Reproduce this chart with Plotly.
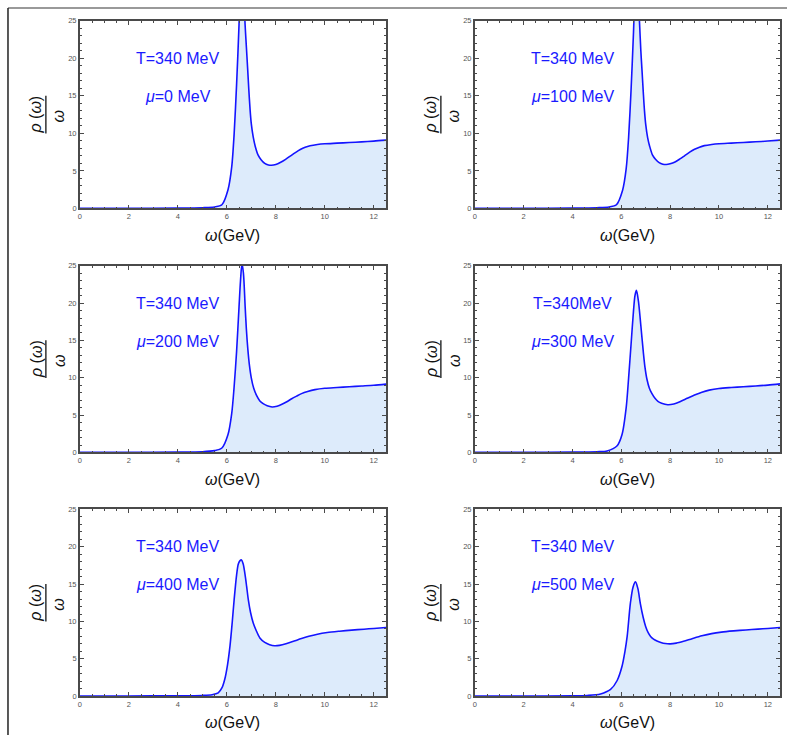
import plotly.graph_objects as go

# ---------------- data ----------------
T_label = ["T=340 MeV", "T=340 MeV", "T=340 MeV", "T=340MeV", "T=340 MeV", "T=340 MeV"]
mu_values = [0, 100, 200, 300, 400, 500]

x_mu0 = [0, 2, 4, 5.0, 5.5, 5.8, 6.05, 6.2, 6.3, 6.4, 6.5, 6.56, 6.62, 6.68, 6.74, 6.8, 6.85, 6.9, 6.95, 7.0, 7.08, 7.16, 7.28, 7.4, 7.55, 7.7, 7.82, 8.0, 8.2, 8.4, 8.6, 8.8, 9.0, 9.2, 9.4, 9.7, 10.0, 10.5, 11.0, 11.5, 12.0, 12.5]
y_mu0 = [0.02, 0.03, 0.05, 0.1, 0.2, 0.5, 2.5, 5.5, 9.9, 16.5, 24.5, 31, 34, 31, 25, 21.5, 18.7, 15.8, 13.2, 11.3, 9.5, 8.3, 7.1, 6.5, 6.0, 5.8, 5.75, 5.85, 6.15, 6.55, 7.0, 7.45, 7.85, 8.15, 8.35, 8.52, 8.62, 8.7, 8.78, 8.87, 8.97, 9.1]

x_mu100 = [0, 2, 4, 5.0, 5.5, 5.8, 6.05, 6.2, 6.3, 6.4, 6.5, 6.56, 6.62, 6.68, 6.75, 6.8, 6.85, 6.9, 6.95, 7.0, 7.08, 7.16, 7.28, 7.4, 7.55, 7.7, 7.84, 8.0, 8.2, 8.4, 8.6, 8.8, 9.0, 9.2, 9.4, 9.7, 10.0, 10.5, 11.0, 11.5, 12.0, 12.5]
y_mu100 = [0.02, 0.03, 0.05, 0.1, 0.2, 0.5, 2.4, 5.3, 9.5, 15.8, 23.5, 29, 31, 29, 24.5, 21.0, 18.3, 15.5, 13.0, 11.2, 9.4, 8.3, 7.1, 6.55, 6.1, 5.9, 5.85, 5.95, 6.2, 6.6, 7.05, 7.5, 7.88, 8.17, 8.37, 8.53, 8.63, 8.71, 8.79, 8.88, 8.98, 9.1]

x_mu200 = [0, 2, 4, 5.0, 5.5, 5.8, 6.05, 6.2, 6.3, 6.4, 6.5, 6.56, 6.62, 6.68, 6.75, 6.8, 6.86, 6.92, 7.0, 7.1, 7.22, 7.35, 7.5, 7.65, 7.85, 8.05, 8.25, 8.45, 8.65, 8.85, 9.05, 9.3, 9.6, 10.0, 10.5, 11.0, 11.5, 12.0, 12.5]
y_mu200 = [0.02, 0.03, 0.05, 0.1, 0.25, 0.6, 2.4, 5.2, 8.8, 13.5, 19.5, 23, 25.3, 24, 19.5, 16.5, 13.8, 11.8, 10.0, 8.6, 7.6, 6.9, 6.5, 6.25, 6.1, 6.2, 6.45, 6.8, 7.2, 7.55, 7.88, 8.17, 8.42, 8.6, 8.7, 8.8, 8.9, 9.0, 9.15]

x_mu300 = [0, 2, 4, 5.0, 5.42, 5.83, 6.03, 6.2, 6.3, 6.4, 6.5, 6.56, 6.62, 6.7, 6.8, 6.9, 6.97, 7.05, 7.15, 7.25, 7.38, 7.5, 7.65, 7.9, 8.15, 8.4, 8.7, 9.0, 9.3, 9.6, 10.0, 10.5, 11.0, 11.5, 12.0, 12.5]
y_mu300 = [0.02, 0.03, 0.05, 0.1, 0.2, 0.9, 2.4, 6.0, 10.0, 14.5, 19.0, 21.0, 21.7, 20.3, 17.0, 13.5, 11.4, 9.8, 8.6, 7.9, 7.25, 6.85, 6.6, 6.4, 6.5, 6.8, 7.25, 7.7, 8.08, 8.35, 8.57, 8.7, 8.8, 8.9, 9.02, 9.18]

x_mu400 = [0, 2, 4, 5.0, 5.4, 5.65, 5.8, 5.92, 6.03, 6.13, 6.22, 6.3, 6.4, 6.47, 6.54, 6.6, 6.67, 6.74, 6.81, 6.88, 6.97, 7.08, 7.2, 7.35, 7.55, 7.75, 7.95, 8.15, 8.45, 8.75, 9.05, 9.35, 9.7, 10.1, 10.6, 11.1, 11.6, 12.0, 12.5]
y_mu400 = [0.02, 0.03, 0.05, 0.1, 0.2, 0.45, 1.1, 2.3, 4.2, 6.7, 9.8, 12.9, 16.2, 17.7, 18.15, 18.25, 17.7, 16.4, 14.7, 12.9, 11.2, 9.8, 8.8, 7.8, 7.2, 6.9, 6.75, 6.8, 7.05, 7.38, 7.72, 8.02, 8.3, 8.52, 8.7, 8.85, 8.97, 9.07, 9.2]

x_mu500 = [0, 2, 4, 4.6, 5.15, 5.56, 5.83, 6.03, 6.15, 6.24, 6.37, 6.48, 6.58, 6.68, 6.78, 6.9, 7.0, 7.1, 7.2, 7.32, 7.46, 7.62, 7.8, 8.0, 8.25, 8.55, 8.9, 9.3, 9.7, 10.1, 10.6, 11.1, 11.6, 12.0, 12.5]
y_mu500 = [0.02, 0.03, 0.05, 0.1, 0.3, 0.9, 2.1, 4.0, 6.0, 8.0, 12.4, 14.6, 15.3, 14.4, 12.4, 10.5, 9.3, 8.5, 8.0, 7.65, 7.4, 7.2, 7.05, 7.0, 7.1, 7.35, 7.7, 8.08, 8.38, 8.58, 8.74, 8.87, 8.98, 9.07, 9.2]

series_x = [x_mu0, x_mu100, x_mu200, x_mu300, x_mu400, x_mu500]
series_y = [y_mu0, y_mu100, y_mu200, y_mu300, y_mu400, y_mu500]

x_ticks = [0, 2, 4, 6, 8, 10, 12]
y_ticks = [0, 5, 10, 15, 20, 25]

# ---------------- layout geometry (pixels) ----------------
W, H = 787, 740
col_px = [(78, 385), (474, 780)]
row_px = [(17, 207), (265, 454), (511.7, 700.7)]

def px2x(p):
    return p / W

def px2y(p):
    return 1 - p / H

LINE = "#1414ff"
FILL = "rgb(221,235,251)"
TXT = "#1a1aff"
FRAME = "#4a4a4a"
FONT = "Liberation Sans, Arial, sans-serif"

fig = go.Figure()
annotations = []
shapes = []

for i in range(6):
    r, c = divmod(i, 2)
    n = i + 1
    xa = "x" if n == 1 else f"x{n}"
    ya = "y" if n == 1 else f"y{n}"
    fig.add_trace(go.Scatter(
        x=series_x[i], y=series_y[i], mode="lines",
        line=dict(color=LINE, width=1.6, shape="spline", smoothing=0.8),
        fill="tozeroy", fillcolor=FILL,
        xaxis=xa, yaxis=ya, showlegend=False, hoverinfo="skip",
    ))
    x0, x1 = col_px[c]
    y0, y1 = row_px[r]
    axis_common = dict(
        showline=True, linecolor=FRAME, linewidth=1.5, mirror="allticks",
        ticks="inside", ticklen=4, tickwidth=1, tickcolor=FRAME,
        showgrid=False, zeroline=False,
        tickfont=dict(family=FONT, size=7.5, color="#555555"),
    )
    fig.layout[("xaxis" if n == 1 else f"xaxis{n}")] = dict(
        domain=[px2x(x0), px2x(x1)], range=[0, 12.5], anchor=ya,
        tickvals=x_ticks, ticktext=[str(v) for v in x_ticks],
        minor=dict(dtick=0.5, tick0=0, ticklen=2, tickcolor=FRAME, ticks="inside"),
        **axis_common)
    fig.layout[("yaxis" if n == 1 else f"yaxis{n}")] = dict(
        domain=[px2y(y1), px2y(y0)], range=[0, 25], anchor=xa,
        tickvals=y_ticks, ticktext=[str(v) for v in y_ticks],
        minor=dict(dtick=1, tick0=0, ticklen=2, tickcolor=FRAME, ticks="inside"),
        **axis_common)

    annotations.append(dict(x=4.0, y=20, xref=xa, yref=ya, text=T_label[i],
                            showarrow=False, xanchor="center", yanchor="middle",
                            font=dict(family=FONT, size=16, color=TXT)))
    annotations.append(dict(x=4.0, y=14.9, xref=xa, yref=ya,
                            text=f"<i>μ</i>={mu_values[i]} MeV",
                            showarrow=False, xanchor="center", yanchor="middle",
                            font=dict(family=FONT, size=16, color=TXT)))
    annotations.append(dict(x=px2x((x0 + x1) / 2), y=px2y(y1 + 27), xref="paper", yref="paper",
                            text="<i>ω</i>(GeV)", showarrow=False,
                            xanchor="center", yanchor="middle",
                            font=dict(family=FONT, size=16, color="#111111")))
    yc = (y0 + y1) / 2
    annotations.append(dict(x=px2x(x0 - 44), y=px2y(yc), xref="paper", yref="paper",
                            text="<i>ρ</i> (<i>ω</i>)", showarrow=False, textangle=-90,
                            xanchor="center", yanchor="middle",
                            font=dict(family=FONT, size=16, color="#111111")))
    annotations.append(dict(x=px2x(x0 - 21), y=px2y(yc + 2), xref="paper", yref="paper",
                            text="<i>ω</i>", showarrow=False, textangle=-90,
                            xanchor="center", yanchor="middle",
                            font=dict(family=FONT, size=16, color="#111111")))
    shapes.append(dict(type="line", xref="paper", yref="paper",
                       x0=px2x(x0 - 34), x1=px2x(x0 - 34),
                       y0=px2y(yc - 19), y1=px2y(yc + 19),
                       line=dict(color="#111111", width=1.3)))

shapes.append(dict(type="line", xref="paper", yref="paper",
                   x0=px2x(6), x1=1, y0=px2y(4), y1=px2y(4),
                   line=dict(color="#777777", width=1.5)))
shapes.append(dict(type="line", xref="paper", yref="paper",
                   x0=px2x(6), x1=px2x(6), y0=px2y(4), y1=0,
                   line=dict(color="#222222", width=1.5)))

fig.update_layout(
    width=W, height=H,
    margin=dict(l=0, r=0, t=0, b=0),
    paper_bgcolor="white", plot_bgcolor="white",
    annotations=annotations, shapes=shapes,
    font=dict(family=FONT),
)

fig.write_html(
    "out.html",
    config={"displayModeBar": False},
    post_script="document.body.style.margin='0';document.body.style.padding='0';document.body.style.overflow='hidden';",
)
